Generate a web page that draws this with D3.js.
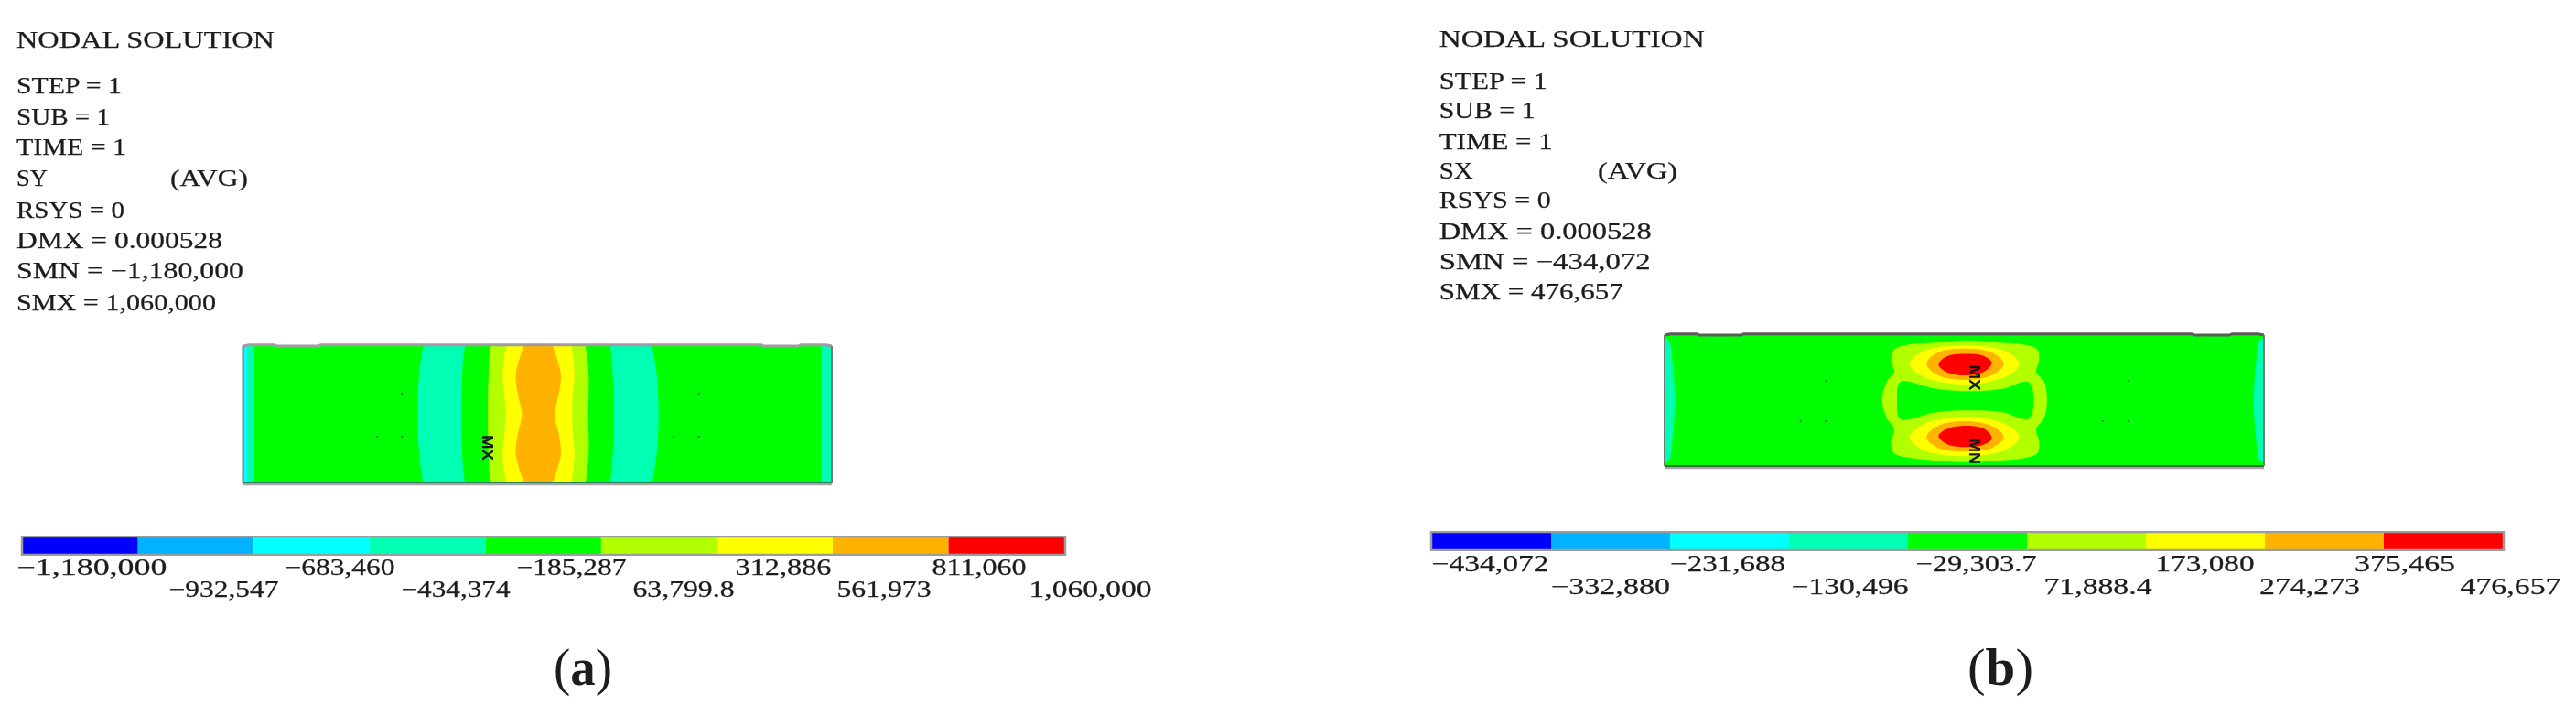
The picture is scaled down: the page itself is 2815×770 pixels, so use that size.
<!DOCTYPE html>
<meta charset="utf-8">
<head>
<style>
html, body { margin: 0; background: #fff; }
svg { display: block; }
text { font-family: 'Liberation Serif', serif; fill: #1c1c1c; }
.tick text, .line, .avg { stroke: #1c1c1c; stroke-width: 0.25px; }
</style>
</head>
<body>
<div id="chart"></div>
<script src="https://d3js.org/d3.v7.min.js"></script>
<script>

// ANSYS contour colours, low to high
var bandColors = ["#0000ff", "#00b2ff", "#00ffff", "#00ffb2", "#00ff00", "#b2ff00", "#ffff00", "#ffb200", "#ff0000"];

// legend values and printed labels
var legendValuesA = [-1180000, -932547, -683460, -434374, -185287, 63799.8, 312886, 561973, 811060, 1060000];
var legendLabelsA = ["\u22121,180,000", "\u2212932,547", "\u2212683,460", "\u2212434,374", "\u2212185,287", "63,799.8", "312,886", "561,973", "811,060", "1,060,000"];
var legendValuesB = [-434072, -332880, -231688, -130496, -29303.7, 71888.4, 173080, 274273, 375465, 476657];
var legendLabelsB = ["\u2212434,072", "\u2212332,880", "\u2212231,688", "\u2212130,496", "\u221229,303.7", "71,888.4", "173,080", "274,273", "375,465", "476,657"];

// header text
var headerA = ["NODAL SOLUTION", "STEP = 1", "SUB = 1", "TIME = 1", "SY", "RSYS = 0", "DMX = 0.000528", "SMN = \u22121,180,000", "SMX = 1,060,000"];
var headerB = ["NODAL SOLUTION", "STEP = 1", "SUB = 1", "TIME = 1", "SX", "RSYS = 0", "DMX = 0.000528", "SMN = \u2212434,072", "SMX = 476,657"];

// panel (a): stripe edges, % of plate width, read at these % of plate height
var stations = [0, 10, 22, 36, 50, 64, 78, 90, 100];
var tealL0 = [30.6, 30.2, 29.9, 29.7, 29.6, 29.7, 29.9, 30.2, 30.6];
var tealL1 = [37.7, 37.4, 37.2, 37.1, 37.1, 37.1, 37.2, 37.4, 37.7];
var tealR0 = [62.4, 62.6, 62.8, 63.0, 63.0, 63.0, 62.8, 62.6, 62.4];
var tealR1 = [69.5, 69.9, 70.3, 70.5, 70.6, 70.5, 70.3, 69.9, 69.5];
var limeA0 = [42.1, 41.8, 41.7, 41.6, 41.6, 41.6, 41.7, 41.8, 42.1];
var limeA1 = [58.2, 58.5, 58.7, 58.7, 58.6, 58.7, 58.7, 58.5, 58.2];
var yellowA0 = [44.7, 44.3, 44.1, 44.4, 44.6, 44.4, 44.1, 44.3, 44.7];
var yellowA1 = [55.8, 56.1, 56.3, 56.0, 55.9, 56.0, 56.3, 56.1, 55.8];
var orangeA0 = [47.7, 46.9, 46.3, 46.7, 47.4, 46.7, 46.3, 46.9, 47.7];
var orangeA1 = [52.6, 53.4, 54.0, 53.6, 52.9, 53.6, 54.0, 53.4, 52.6];
var nodesA = [[27, 35], [22.8, 66.4], [27, 66.4], [77.4, 35], [73.1, 66.4], [77.4, 66.4]];

// panel (b): closed contours as [x %, y %] of the plate
var limeB = [[50.5, 4], [46, 5.6], [40.4, 7.5], [38.3, 11], [37.8, 19], [38.3, 28.4], [37.1, 35.4], [36.3, 49.4], [37.1, 63.4], [38.3, 71.6], [37.8, 82], [38.3, 90.2], [40.9, 93.7], [46, 96], [50.5, 97.2], [55.1, 96], [60.2, 93.7], [62.2, 90.2], [62.5, 82], [62, 71.6], [63.3, 63.4], [63.8, 49.4], [63.3, 35.4], [62, 28.4], [62.5, 19], [62.2, 11], [60.2, 7.5], [55.1, 5.6]];
var holeB = [[39.3, 35.9], [45.5, 41.3], [51, 42.9], [56.2, 41.3], [60.7, 35.9], [61.6, 49.4], [60.7, 63.9], [56.2, 58.7], [51, 57.6], [45.5, 58.7], [39.3, 63.9], [38.8, 49.4]];
var yellowTop = [[40.9, 22], [43, 12.5], [50, 7.9], [57, 12.5], [59.2, 22], [57, 31.5], [50, 37.8], [43, 31.5]];
var orangeTop = [[43.7, 22], [45.5, 13.5], [50, 10.3], [54.7, 13.5], [56.6, 22], [54.7, 30.5], [50, 34.3], [45.5, 30.5]];
var redTop = [[45.7, 22.5], [47, 16.5], [50, 14.4], [53.3, 16], [54.6, 21], [53.5, 27.5], [50.5, 30.8], [47.2, 28.5]];
var yellowLow = [[40.9, 78], [43, 68.5], [50, 62.2], [57, 68.5], [59.2, 78], [57, 87.5], [50, 92.5], [43, 87.5]];
var orangeLow = [[43.7, 78], [45.5, 69.5], [50, 65.7], [54.7, 69.5], [56.6, 78], [54.7, 86], [50, 89], [45.5, 86]];
var redLow = [[45.7, 77], [47.2, 71.5], [50.5, 69.2], [53.5, 72], [54.6, 79], [53.3, 83.5], [50, 85.5], [47, 83]];
var edgeBy = [2, 5, 20, 50, 80, 95, 98];
var edgeBx = [0, 0.8, 1.3, 1.7, 1.3, 0.8, 0];
var nodesB = [[26.9, 35], [22.7, 65.7], [26.9, 65.7], [77.4, 35], [73.1, 65.7], [77.4, 65.7]];

// top edge of the plate, % of width, with its two recesses
var topEdgeX = [0, 1, 5.4, 5.8, 12.8, 13.2, 88, 88.4, 94.3, 94.7, 99, 100];
var topEdgeY = [0, -0.9, -0.9, 0, 0, -0.9, -0.9, 0, 0, -0.9, -0.9, 0];

var width = 2815, height = 770;

var svg = d3.select("#chart").append("svg")
    .attr("width", width)
    .attr("height", height);

svg.append("defs").append("filter")
    .attr("id", "soft")
    .attr("x", "-2%").attr("y", "-5%").attr("width", "104%").attr("height", "110%")
  .append("feGaussianBlur")
    .attr("stdDeviation", 0.7);

function header(lines, x, baselines, widths, avgX, avgW) {
  var g = svg.append("g").attr("filter", "url(#soft)");
  g.selectAll("text.line")
      .data(lines)
    .enter().append("text")
      .attr("class", "line")
      .attr("x", x)
      .attr("y", function(d, i) { return baselines[i]; })
      .attr("font-size", 25)
      .attr("textLength", function(d, i) { return widths[i]; })
      .attr("lengthAdjust", "spacingAndGlyphs")
      .text(function(d) { return d; });
  g.append("text")
      .attr("class", "avg")
      .attr("x", avgX)
      .attr("y", baselines[4])
      .attr("font-size", 25)
      .attr("textLength", avgW)
      .attr("lengthAdjust", "spacingAndGlyphs")
      .text("(AVG)");
}

function plate(box, opts) {
  var x = d3.scaleLinear().domain([0, 100]).range([box.x0, box.x1]);
  var y = d3.scaleLinear().domain([0, 100]).range([box.y0, box.y1]);
  var g = svg.append("g").attr("filter", "url(#soft)");

  g.append("rect")
      .attr("x", x(0))
      .attr("y", y(0))
      .attr("width", x(100) - x(0))
      .attr("height", y(100) - y(0))
      .attr("fill", bandColors[4]);

  var ring = d3.line()
      .x(function(d) { return x(d[0]); })
      .y(function(d) { return y(d[1]); })
      .curve(d3.curveCatmullRomClosed.alpha(0.5));

  var stripe = function(a, b, ys, color) {
    var area = d3.area()
        .y(function(d, i) { return y(ys[i]); })
        .x0(function(d, i) { return x(a[i]); })
        .x1(function(d, i) { return x(b[i]); })
        .curve(d3.curveCatmullRom.alpha(0.5));
    g.append("path").attr("d", area(a)).attr("fill", color);
  };

  opts.draw(g, ring, stripe, x, y);

  g.selectAll("circle.node")
      .data(opts.nodes)
    .enter().append("circle")
      .attr("class", "node")
      .attr("cx", function(d) { return x(d[0]); })
      .attr("cy", function(d) { return y(d[1]); })
      .attr("r", 1.1)
      .attr("fill", "#0a7a0a");

  opts.marks.forEach(function(m) {
    g.append("text")
        .attr("transform", "translate(" + (x(m.x) - 6) + "," + y(m.y) + ") rotate(90)")
        .attr("text-anchor", "middle")
        .attr("font-size", 17)
        .attr("font-weight", "bold")
        .attr("textLength", 28)
        .attr("lengthAdjust", "spacingAndGlyphs")
        .style("font-family", "'Liberation Sans', sans-serif")
        .style("fill", "#161616")
        .text(m.label);
  });

  // outline
  var edge = d3.line()
      .x(function(d, i) { return x(topEdgeX[i]); })
      .y(function(d, i) { return y(topEdgeY[i]); });
  g.append("path")
      .attr("d", edge(topEdgeX))
      .attr("fill", "none")
      .attr("stroke", opts.topColor)
      .attr("stroke-width", 3);
  g.append("line")
      .attr("x1", x(0)).attr("x2", x(100))
      .attr("y1", y(100) + 2).attr("y2", y(100) + 2)
      .attr("stroke", "#a9a6a9")
      .attr("stroke-width", 2.5);
  g.append("line")
      .attr("x1", x(0)).attr("x2", x(100))
      .attr("y1", y(100)).attr("y2", y(100))
      .attr("stroke", opts.bottomColor)
      .attr("stroke-width", 2);
  [0, 100].forEach(function(v) {
    g.append("line")
        .attr("x1", x(v)).attr("x2", x(v))
        .attr("y1", y(0)).attr("y2", y(100))
        .attr("stroke", "#6f7a78")
        .attr("stroke-width", 2);
  });
}

function legend(values, labels, box, starts, widths, upperY, lowerY) {
  var x = d3.scaleLinear()
      .domain([values[0], values[9]])
      .range([box.x0, box.x1]);

  var g = svg.append("g").attr("filter", "url(#soft)");

  g.selectAll("rect")
      .data(bandColors)
    .enter().append("rect")
      .attr("x", function(d, i) { return x(values[i]); })
      .attr("y", box.y0)
      .attr("width", function(d, i) { return x(values[i + 1]) - x(values[i]); })
      .attr("height", box.y1 - box.y0)
      .attr("fill", function(d) { return d; });

  g.append("rect")
      .attr("x", box.x0 - 1)
      .attr("y", box.y0 - 1)
      .attr("width", box.x1 - box.x0 + 2)
      .attr("height", box.y1 - box.y0 + 2)
      .attr("fill", "none")
      .attr("stroke", "#9c9c9c")
      .attr("stroke-width", 2.5);

  var axis = d3.axisBottom(x)
      .tickValues(values)
      .tickSize(0)
      .tickFormat(function(d, i) { return labels[i]; });

  var ax = svg.append("g")
      .attr("filter", "url(#soft)")
      .call(axis);
  ax.select(".domain").remove();
  ax.selectAll(".tick text")
      .attr("text-anchor", "start")
      .attr("font-family", null)
      .style("font-size", "25px")
      .attr("dy", null)
      .attr("x", function(d, i) { return starts[i] - x(values[i]); })
      .attr("y", function(d, i) { return i % 2 ? lowerY : upperY; })
      .attr("textLength", function(d, i) { return widths[i]; })
      .attr("lengthAdjust", "spacingAndGlyphs");
}

function caption(letter, x, y, w) {
  var t = svg.append("text")
      .attr("x", x)
      .attr("y", y)
      .attr("font-size", 58)
      .attr("textLength", w)
      .attr("lengthAdjust", "spacingAndGlyphs");
  t.append("tspan").text("(");
  t.append("tspan").attr("font-weight", "bold").text(letter);
  t.append("tspan").text(")");
}

// panel (a)
header(headerA, 18,
  [52, 101.7, 136, 169, 202.7, 237.7, 271, 304, 339],
  [282, 115, 102, 120, 34, 118, 225, 248, 218],
  186, 85);

plate({x0: 265.5, x1: 909, y0: 378, y1: 527}, {
  topColor: "#a39aa3",
  bottomColor: "#2c7f58",
  nodes: nodesA,
  marks: [{label: "MX", x: 41.6, y: 74.5}],
  draw: function(g, ring, stripe, x, y) {
    g.append("rect").attr("x", x(0)).attr("y", y(0)).attr("width", x(1.9) - x(0)).attr("height", y(100) - y(0)).attr("fill", bandColors[3]);
    g.append("rect").attr("x", x(0)).attr("y", y(0)).attr("width", x(0.7) - x(0)).attr("height", y(100) - y(0)).attr("fill", bandColors[2]);
    g.append("rect").attr("x", x(98.2)).attr("y", y(0)).attr("width", x(100) - x(98.2)).attr("height", y(100) - y(0)).attr("fill", bandColors[3]);
    stripe(tealL0, tealL1, stations, bandColors[3]);
    stripe(tealR0, tealR1, stations, bandColors[3]);
    stripe(limeA0, limeA1, stations, bandColors[5]);
    stripe(yellowA0, yellowA1, stations, bandColors[6]);
    stripe(orangeA0, orangeA1, stations, bandColors[7]);
  }
});

legend(legendValuesA, legendLabelsA, {x0: 25, x1: 1163, y0: 587, y1: 605},
  [18, 184, 311, 438, 564, 691, 803, 914, 1018, 1124],
  [164, 120, 120, 119, 120, 111, 105, 103, 103, 134],
  628, 652);

caption("a", 605, 748, 64);

// panel (b)
header(headerB, 1572.7,
  [50.7, 97, 129, 163, 195, 227, 261, 293.7, 326.7],
  [290, 118, 105, 124, 37, 122, 232, 231, 201],
  1746, 87);

plate({x0: 1819, x1: 2474, y0: 366, y1: 509}, {
  topColor: "#5a5a5a",
  bottomColor: "#2a6a3a",
  nodes: nodesB,
  marks: [{label: "MX", x: 51.8, y: 32.5}, {label: "MN", x: 51.8, y: 88.8}],
  draw: function(g, ring, stripe, x, y) {
    stripe(edgeBx.map(function() { return 0; }), edgeBx, edgeBy, bandColors[3]);
    stripe(edgeBx.map(function(d) { return 100 - d; }), edgeBx.map(function() { return 100; }), edgeBy, bandColors[3]);
    g.append("path").attr("d", ring(limeB)).attr("fill", bandColors[5]);
    g.append("path").attr("d", ring(holeB)).attr("fill", bandColors[4]);
    [[yellowTop, 6], [orangeTop, 7], [redTop, 8], [yellowLow, 6], [orangeLow, 7], [redLow, 8]].forEach(function(c) {
      g.append("path").attr("d", ring(c[0])).attr("fill", bandColors[c[1]]);
    });
  }
});

legend(legendValuesB, legendLabelsB, {x0: 1565, x1: 2735, y0: 582, y1: 600},
  [1564, 1694.5, 1824.5, 1957, 2093, 2233, 2355, 2468.5, 2572.5, 2688],
  [128, 130, 126, 128, 132, 118, 108, 110, 110, 110],
  624, 649);

caption("b", 2150, 748, 72);

</script>
</body>
